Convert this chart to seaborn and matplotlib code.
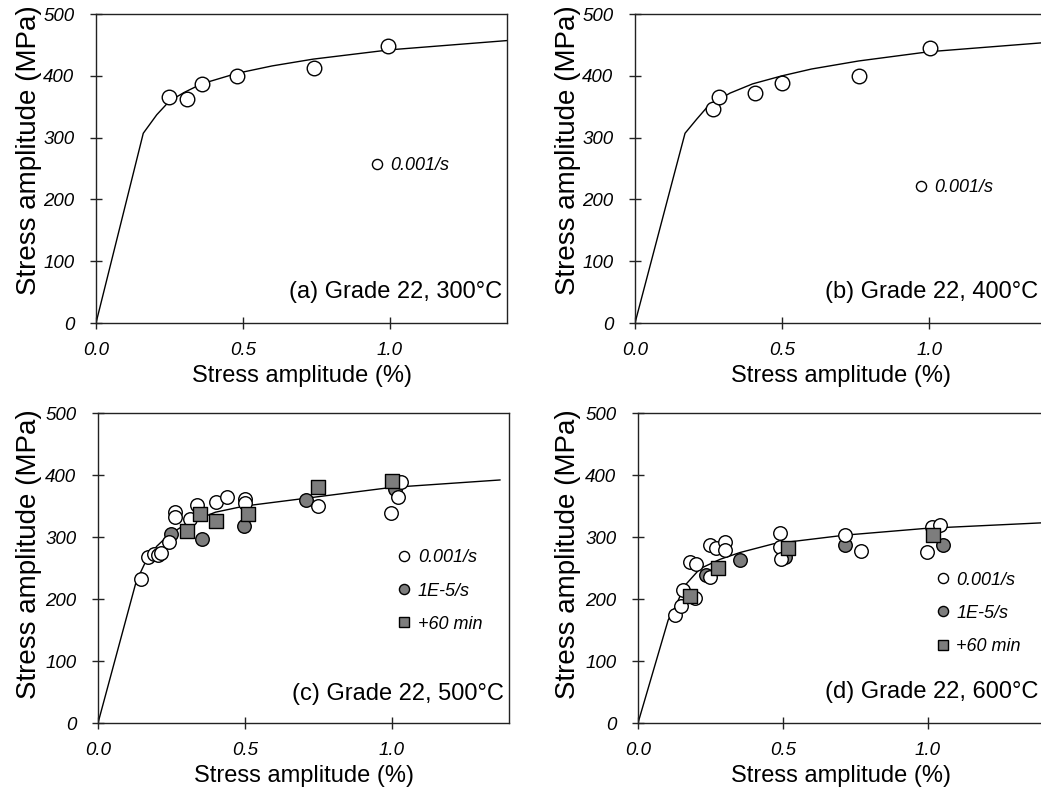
import matplotlib
matplotlib.use("Agg")
import matplotlib.pyplot as plt
import seaborn as sns
from matplotlib.lines import Line2D

# ---------------- data ----------------
# (a) Grade 22, 300°C
a_open_x = [0.250, 0.311, 0.362, 0.480, 0.742, 0.995]
a_open_y = [365, 362, 386, 400, 412, 448]
a_curve_x = [0.0, 0.127, 0.161, 0.207, 0.25, 0.30, 0.36, 0.48, 0.60, 0.74, 1.0, 1.4]
a_curve_y = [0, 242, 307, 337, 359, 373, 387, 404, 416, 427, 442, 457]

# (b) Grade 22, 400°C
b_open_x = [0.266, 0.287, 0.407, 0.499, 0.760, 1.001]
b_open_y = [347, 366, 372, 388, 400, 445]
b_curve_x = [0.0, 0.13, 0.17, 0.21, 0.25, 0.323, 0.40, 0.50, 0.60, 0.76, 1.0, 1.4]
b_curve_y = [0, 235, 307, 330, 352, 372, 387, 400, 411, 424, 439, 454]

# (c) Grade 22, 500°C
c_open_x = [0.145, 0.171, 0.190, 0.205, 0.213, 0.243, 0.262, 0.262, 0.313, 0.338,
            0.401, 0.438, 0.500, 0.500, 0.749, 0.999, 1.021, 1.033]
c_open_y = [233, 267, 272, 271, 274, 292, 340, 333, 329, 352,
            357, 365, 361, 355, 350, 339, 364, 388]
c_slow_x = [0.250, 0.353, 0.497, 0.710, 1.010]
c_slow_y = [305, 297, 317, 360, 377]
c_hold_x = [0.302, 0.349, 0.401, 0.511, 0.749, 1.001]
c_hold_y = [309, 337, 326, 337, 380, 391]
c_curve_x = [0.0, 0.13, 0.16, 0.20, 0.24, 0.30, 0.40, 0.50, 0.75, 1.0, 1.37]
c_curve_y = [0, 228, 258, 285, 303, 321, 340, 350, 365, 380, 392]

# (d) Grade 22, 600°C
d_open_x = [0.128, 0.147, 0.156, 0.197, 0.179, 0.199, 0.248, 0.248, 0.269, 0.300,
            0.300, 0.490, 0.490, 0.492, 0.714, 0.769, 0.995, 1.013, 1.041]
d_open_y = [174, 188, 214, 201, 260, 256, 236, 287, 282, 292,
            279, 306, 284, 264, 304, 277, 276, 316, 319]
d_slow_x = [0.234, 0.352, 0.507, 0.714, 1.053]
d_slow_y = [239, 263, 268, 287, 287]
d_hold_x = [0.179, 0.277, 0.518, 1.018]
d_hold_y = [205, 250, 282, 303]
d_curve_x = [0.0, 0.104, 0.128, 0.162, 0.214, 0.283, 0.352, 0.467, 0.714, 0.995, 1.40]
d_curve_y = [0, 166, 187, 222, 249, 264, 275, 289, 303, 314, 323]

panel_titles = ["(a) Grade 22, 300°C", "(b) Grade 22, 400°C",
                "(c) Grade 22, 500°C", "(d) Grade 22, 600°C"]
legend_labels = ["0.001/s", "1E-5/s", "+60 min"]
x_ticks = [0.0, 0.5, 1.0]
x_ticklabels = ["0.0", "0.5", "1.0"]
y_ticks = [0, 100, 200, 300, 400, 500]
y_ticklabels = ["0", "100", "200", "300", "400", "500"]
x_label = "Stress amplitude (%)"
y_label = "Stress amplitude (MPa)"

# ---------------- style ----------------
sns.set_theme(style="ticks")
FONT = ["Liberation Sans", "DejaVu Sans"]
plt.rcParams["font.family"] = FONT
plt.rcParams["axes.linewidth"] = 1.0
plt.rcParams["axes.edgecolor"] = "#222222"
for k in ["text.color", "axes.labelcolor", "xtick.labelcolor", "ytick.labelcolor"]:
    plt.rcParams[k] = "black"
plt.rcParams["xtick.direction"] = "inout"
plt.rcParams["ytick.direction"] = "inout"

GRAY = "#7d7d7d"
W, H = 1041, 787
fig = plt.figure(figsize=(W / 100, H / 100), dpi=100)


def add_ax(left, right, top, bottom):
    return fig.add_axes([left / W, 1 - bottom / H, (right - left) / W, (bottom - top) / H])


# pixel boxes: left, right(at x=1.4), top, bottom
boxes = [(96, 507, 14, 323), (635, 1047, 14, 323), (98, 509, 413, 723), (638, 1044, 413, 723)]
axes = [add_ax(*b) for b in boxes]

panels = [
    dict(open=(a_open_x, a_open_y), slow=None, hold=None, curve=(a_curve_x, a_curve_y), ms=110),
    dict(open=(b_open_x, b_open_y), slow=None, hold=None, curve=(b_curve_x, b_curve_y), ms=110),
    dict(open=(c_open_x, c_open_y), slow=(c_slow_x, c_slow_y), hold=(c_hold_x, c_hold_y),
         curve=(c_curve_x, c_curve_y), ms=95),
    dict(open=(d_open_x, d_open_y), slow=(d_slow_x, d_slow_y), hold=(d_hold_x, d_hold_y),
         curve=(d_curve_x, d_curve_y), ms=95),
]

legend_pos = [(376.7, 165.7), (921.0, 187.7), (404.3, 591.0), (942.7, 613.3)]
title_pos = [(0.988, 0.081), (0.978, 0.081), (0.988, 0.074), (0.985, 0.080)]
ylabel_right_px = [42, 581, 42, 581]
ylabel_center_frac = [0.56, 0.56, 0.545, 0.545]

for i, (ax, p) in enumerate(zip(axes, panels)):
    cx, cy = p["curve"]
    sns.lineplot(x=cx, y=cy, ax=ax, color="black", lw=1.0, sort=False, estimator=None, zorder=2)
    if p["hold"] is not None:
        sns.scatterplot(x=p["hold"][0], y=p["hold"][1], ax=ax, marker="s", s=p["ms"] * 0.95,
                        color=GRAY, edgecolor="black", linewidth=1.0, zorder=4)
    if p["slow"] is not None:
        sns.scatterplot(x=p["slow"][0], y=p["slow"][1], ax=ax, marker="o", s=p["ms"],
                        color=GRAY, edgecolor="black", linewidth=1.0, zorder=3)
    sns.scatterplot(x=p["open"][0], y=p["open"][1], ax=ax, marker="o", s=p["ms"],
                    color="white", edgecolor="black", linewidth=1.0, zorder=3)

    ax.set_xlim(0, 1.4)
    ax.set_ylim(0, 500)
    ax.set_xticks(x_ticks)
    ax.set_xticklabels(x_ticklabels, fontsize=13.5, style="italic")
    ax.set_yticks(y_ticks)
    ax.set_yticklabels(y_ticklabels, fontsize=13.5, style="italic")
    ax.tick_params(direction="inout", length=9, width=1.0, color="#222222")
    ax.tick_params(axis="x", pad=9.5)
    ax.tick_params(axis="y", pad=11)
    for sp in ax.spines.values():
        sp.set_visible(True)
        sp.set_color("#222222")
    ax.set_xlabel(x_label, fontsize=17, labelpad=4)
    ax.set_ylabel(y_label, fontsize=20)
    l, r, t, b = boxes[i]
    ax.yaxis.set_label_coords((ylabel_right_px[i] - l) / (r - l), ylabel_center_frac[i])

    ax.text(title_pos[i][0], title_pos[i][1], panel_titles[i], transform=ax.transAxes,
            ha="right", va="baseline", fontsize=17, color="black")

    handles = [Line2D([], [], ls="none", marker="o", ms=7.3, mfc="white", mec="black", mew=1.0)]
    labels = [legend_labels[0]]
    if p["slow"] is not None:
        handles.append(Line2D([], [], ls="none", marker="o", ms=7.3, mfc=GRAY, mec="black", mew=1.0))
        handles.append(Line2D([], [], ls="none", marker="s", ms=7.0, mfc=GRAY, mec="black", mew=1.0))
        labels += legend_labels[1:]
    mx, my = legend_pos[i]
    fx = (mx - 7.2 - l) / (r - l)
    fy = (b - my) / (b - t)
    ax.legend(handles, labels, loc="center left", bbox_to_anchor=(fx, fy), frameon=False,
              handlelength=0.8, handletextpad=0.35, borderpad=0, borderaxespad=0,
              labelspacing=0.9, prop=dict(family=FONT, style="italic", size=13))

fig.savefig("out.png", dpi=100)
